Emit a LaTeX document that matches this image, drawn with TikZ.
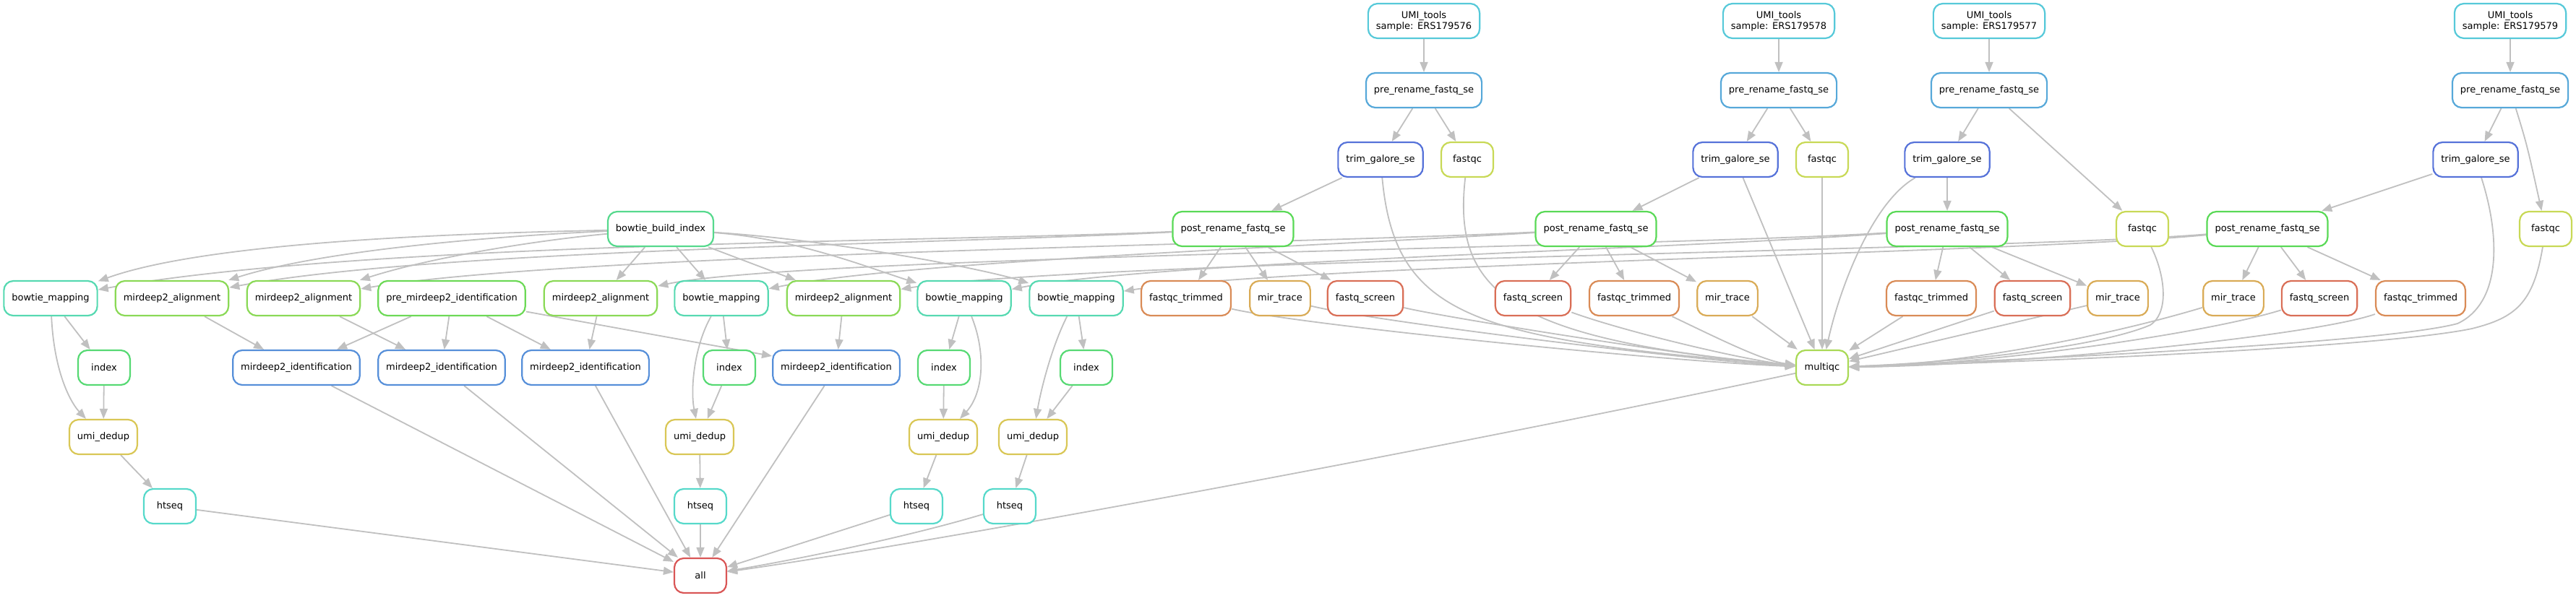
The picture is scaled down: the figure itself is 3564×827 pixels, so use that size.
\documentclass[tikz,border=0pt]{standalone}
\usepackage{fontspec}
\setmainfont{DejaVu Sans}
\usetikzlibrary{arrows.meta}
\pgfdeclarelayer{background}
\pgfsetlayers{background,main}
\definecolor{edgegrey}{HTML}{C0C0C0}
\definecolor{cumi}{HTML}{56C9D9}
\definecolor{cpre}{HTML}{56A8D9}
\definecolor{ctrim}{HTML}{5672D9}
\definecolor{cfqc}{HTML}{C8D956}
\definecolor{cpost}{HTML}{59D956}
\definecolor{cbbi}{HTML}{56D98D}
\definecolor{cbm}{HTML}{56D9B1}
\definecolor{cma}{HTML}{8AD956}
\definecolor{cpmi}{HTML}{6CD956}
\definecolor{cmid}{HTML}{568FD9}
\definecolor{cidx}{HTML}{56D973}
\definecolor{cud}{HTML}{D9C756}
\definecolor{cht}{HTML}{56D9CA}
\definecolor{call}{HTML}{D95656}
\definecolor{cmq}{HTML}{A9D956}
\definecolor{cft}{HTML}{D98B56}
\definecolor{cfs}{HTML}{D96E56}
\definecolor{cmt}{HTML}{D9AB56}
\begin{document}
\begin{tikzpicture}[x=1pt,y=-1pt,
  box/.style={draw=#1, fill=white, rounded corners=13pt, line width=2.2pt, minimum height=48pt, minimum width=72pt, inner xsep=11pt, inner ysep=0pt, font=\fontsize{13pt}{15pt}\selectfont, align=center},
  edge/.style={draw=edgegrey, line width=1.8pt, -{Triangle[length=14pt,width=11pt]}}]
\useasboundingbox (0,0) rectangle (3564,827);
% row 0
\node[box=cumi] (u1) at (1970,29) {UMI\_tools\\sample: ERS179576};
\node[box=cumi] (u2) at (2461,29) {UMI\_tools\\sample: ERS179578};
\node[box=cumi] (u3) at (2752,29) {UMI\_tools\\sample: ERS179577};
\node[box=cumi] (u4) at (3473,29) {UMI\_tools\\sample: ERS179579};
% row 1
\node[box=cpre] (p1) at (1970,125) {pre\_rename\_fastq\_se};
\node[box=cpre] (p2) at (2461,125) {pre\_rename\_fastq\_se};
\node[box=cpre] (p3) at (2752,125) {pre\_rename\_fastq\_se};
\node[box=cpre] (p4) at (3473,125) {pre\_rename\_fastq\_se};
% row 2
\node[box=ctrim] (tg1) at (1910,221) {trim\_galore\_se};
\node[box=cfqc] (fq1) at (2030,221) {fastqc};
\node[box=ctrim] (tg2) at (2401,221) {trim\_galore\_se};
\node[box=cfqc] (fq2) at (2521,221) {fastqc};
\node[box=ctrim] (tg3) at (2694,221) {trim\_galore\_se};
\node[box=ctrim] (tg4) at (3425,221) {trim\_galore\_se};
% row 3
\node[box=cbbi] (bbi) at (914,317) {bowtie\_build\_index};
\node[box=cpost] (pr1) at (1706,317) {post\_rename\_fastq\_se};
\node[box=cpost] (pr2) at (2208,317) {post\_rename\_fastq\_se};
\node[box=cpost] (pr3) at (2694,317) {post\_rename\_fastq\_se};
\node[box=cfqc] (fq3) at (2964,317) {fastqc};
\node[box=cpost] (pr4) at (3137,317) {post\_rename\_fastq\_se};
\node[box=cfqc] (fq4) at (3522,317) {fastqc};
% row 4
\node[box=cbm] (bm1) at (70,413) {bowtie\_mapping};
\node[box=cma] (ma1) at (238,413) {mirdeep2\_alignment};
\node[box=cma] (ma2) at (420,413) {mirdeep2\_alignment};
\node[box=cpmi] (pmi) at (625,413) {pre\_mirdeep2\_identification};
\node[box=cma] (ma3) at (831,413) {mirdeep2\_alignment};
\node[box=cbm] (bm2) at (998,413) {bowtie\_mapping};
\node[box=cma] (ma4) at (1167,413) {mirdeep2\_alignment};
\node[box=cbm] (bm3) at (1334,413) {bowtie\_mapping};
\node[box=cbm] (bm4) at (1489,413) {bowtie\_mapping};
\node[box=cft] (ft1) at (1641,413) {fastqc\_trimmed};
\node[box=cmt] (mt1) at (1771,413) {mir\_trace};
\node[box=cfs] (fs1) at (1889,413) {fastq\_screen};
\node[box=cfs] (fs2) at (2121,413) {fastq\_screen};
\node[box=cft] (ft2) at (2261,413) {fastqc\_trimmed};
\node[box=cmt] (mt2) at (2390,413) {mir\_trace};
\node[box=cft] (ft3) at (2672,413) {fastqc\_trimmed};
\node[box=cfs] (fs3) at (2812,413) {fastq\_screen};
\node[box=cmt] (mt3) at (2930,413) {mir\_trace};
\node[box=cmt] (mt4) at (3090,413) {mir\_trace};
\node[box=cfs] (fs4) at (3209,413) {fastq\_screen};
\node[box=cft] (ft4) at (3349,413) {fastqc\_trimmed};
% row 5
\node[box=cidx] (ix1) at (144,509) {index};
\node[box=cmid] (mid1) at (410,509) {mirdeep2\_identification};
\node[box=cmid] (mid2) at (611,509) {mirdeep2\_identification};
\node[box=cmid] (mid3) at (810,509) {mirdeep2\_identification};
\node[box=cidx] (ix2) at (1009,509) {index};
\node[box=cmid] (mid4) at (1157,509) {mirdeep2\_identification};
\node[box=cidx] (ix3) at (1306,509) {index};
\node[box=cidx] (ix4) at (1503,509) {index};
\node[box=cmq] (mq) at (2521,509) {multiqc};
% row 6
\node[box=cud] (ud1) at (143,605) {umi\_dedup};
\node[box=cud] (ud2) at (968,605) {umi\_dedup};
\node[box=cud] (ud3) at (1305,605) {umi\_dedup};
\node[box=cud] (ud4) at (1429,605) {umi\_dedup};
% row 7
\node[box=cht] (ht1) at (235,701) {htseq};
\node[box=cht] (ht2) at (969,701) {htseq};
\node[box=cht] (ht3) at (1268,701) {htseq};
\node[box=cht] (ht4) at (1397,701) {htseq};
% row 8
\node[box=call] (all) at (969,797) {all};

\begin{pgfonlayer}{background}
% top chains
\draw[edge] (u1) -- (p1);
\draw[edge] (u2) -- (p2);
\draw[edge] (u3) -- (p3);
\draw[edge] (u4) -- (p4);
\draw[edge] (p1) -- (tg1);
\draw[edge] (p1) -- (fq1);
\draw[edge] (p2) -- (tg2);
\draw[edge] (p2) -- (fq2);
\draw[edge] (p3) -- (tg3);
\draw[edge] (p3) -- (fq3);
\draw[edge] (p4) -- (tg4);
\draw[edge] (p4) .. controls (3496,200) .. (fq4);
\draw[edge] (tg1) -- (pr1);
\draw[edge] (tg2) -- (pr2);
\draw[edge] (tg3) -- (pr3);
\draw[edge] (tg4) -- (pr4);
% post_rename -> QC
\draw[edge] (pr1) -- (ft1);
\draw[edge] (pr1) -- (mt1);
\draw[edge] (pr1) -- (fs1);
\draw[edge] (pr2) -- (fs2);
\draw[edge] (pr2) -- (ft2);
\draw[edge] (pr2) -- (mt2);
\draw[edge] (pr3) -- (ft3);
\draw[edge] (pr3) -- (fs3);
\draw[edge] (pr3) -- (mt3);
\draw[edge] (pr4) -- (mt4);
\draw[edge] (pr4) -- (fs4);
\draw[edge] (pr4) -- (ft4);
% bowtie_build_index
\draw[edge] (bbi) .. controls (700,322) and (300,330) .. (bm1);
\draw[edge] (bbi) .. controls (700,326) and (450,345) .. (ma1);
\draw[edge] (bbi) .. controls (750,332) and (600,355) .. (ma2);
\draw[edge] (bbi) -- (ma3);
\draw[edge] (bbi) -- (bm2);
\draw[edge] (bbi) -- (ma4);
\draw[edge] (bbi) .. controls (1100,330) and (1200,370) .. (bm3);
\draw[edge] (bbi) .. controls (1150,332) and (1360,372) .. (bm4);
% post_rename -> mapping/alignment
\draw[edge] (pr1) .. controls (1300,335) and (500,335) .. (bm1);
\draw[edge] (pr1) .. controls (1300,338) and (600,345) .. (ma1);
\draw[edge] (pr2) .. controls (1800,338) and (800,350) .. (ma2);
\draw[edge] (pr2) .. controls (1800,342) and (1250,362) .. (bm2);
\draw[edge] (pr3) .. controls (2300,342) and (1100,355) .. (ma3);
\draw[edge] (pr3) .. controls (2300,346) and (1600,362) .. (bm3);
\draw[edge] (pr4) .. controls (2800,346) and (1500,360) .. (ma4);
\draw[edge] (pr4) .. controls (2800,350) and (1800,366) .. (bm4);
% mirdeep2
\draw[edge] (ma1) -- (mid1);
\draw[edge] (ma2) -- (mid2);
\draw[edge] (ma3) -- (mid3);
\draw[edge] (ma4) -- (mid4);
\draw[edge] (pmi) -- (mid1);
\draw[edge] (pmi) -- (mid2);
\draw[edge] (pmi) -- (mid3);
\draw[edge] (pmi) -- (mid4);
% mapping chains
\draw[edge] (bm1) -- (ix1);
\draw[edge] (bm1) .. controls (75,520) and (100,560) .. (ud1);
\draw[edge] (ix1) -- (ud1);
\draw[edge] (ud1) -- (ht1);
\draw[edge] (bm2) -- (ix2);
\draw[edge] (bm2) .. controls (960,480) and (955,540) .. (ud2);
\draw[edge] (ix2) -- (ud2);
\draw[edge] (ud2) -- (ht2);
\draw[edge] (bm3) -- (ix3);
\draw[edge] (bm3) .. controls (1365,490) and (1360,545) .. (ud3);
\draw[edge] (ix3) -- (ud3);
\draw[edge] (ud3) -- (ht3);
\draw[edge] (bm4) -- (ix4);
\draw[edge] (bm4) .. controls (1455,480) and (1440,540) .. (ud4);
\draw[edge] (ix4) -- (ud4);
\draw[edge] (ud4) -- (ht4);
% multiqc inputs, left
\draw[edge] (ft1) .. controls (1800,450) and (2300,500) .. (mq);
\draw[edge] (mt1) .. controls (1900,445) and (2350,500) .. (mq);
\draw[edge] (fs1) .. controls (2000,440) and (2380,500) .. (mq);
\draw[edge] (tg1) .. controls (1930,440) and (2040,470) .. (mq);
\draw[edge] (fq1) .. controls (2010,400) and (2080,470) .. (mq);
\draw[edge] (fs2) .. controls (2250,460) and (2420,500) .. (mq);
\draw[edge] (ft2) .. controls (2380,470) and (2440,500) .. (mq);
\draw[edge] (mt2) -- (mq);
\draw[edge] (tg2) -- (mq);
\draw[edge] (fq2) -- (mq);
\draw[edge] (tg3) .. controls (2590,280) and (2545,400) .. (mq);
% multiqc inputs, right
\draw[edge] (ft3) -- (mq);
\draw[edge] (fs3) -- (mq);
\draw[edge] (mt3) -- (mq);
\draw[edge] (fq3) .. controls (2995,380) and (3002,432) .. (2975,450) .. controls (2900,482) and (2700,502) .. (mq);
\draw[edge] (mt4) .. controls (2900,470) and (2700,505) .. (mq);
\draw[edge] (fs4) .. controls (3050,462) and (2750,505) .. (mq);
\draw[edge] (ft4) .. controls (3200,465) and (2800,505) .. (mq);
\draw[edge] (tg4) .. controls (3460,330) and (3460,420) .. (3400,448) .. controls (3300,475) and (2800,498) .. (mq);
\draw[edge] (fq4) .. controls (3505,420) and (3480,440) .. (3420,455) .. controls (3300,480) and (2850,500) .. (mq);
% to all
\draw[edge] (mq) .. controls (2000,620) and (1300,750) .. (all);
\draw[edge] (ht4) .. controls (1250,745) and (1100,775) .. (all);
\draw[edge] (ht3) -- (all);
\draw[edge] (ht2) -- (all);
\draw[edge] (ht1) -- (all);
\draw[edge] (mid1) -- (all);
\draw[edge] (mid2) -- (all);
\draw[edge] (mid3) -- (all);
\draw[edge] (mid4) -- (all);
\end{pgfonlayer}
\end{tikzpicture}
\end{document}
